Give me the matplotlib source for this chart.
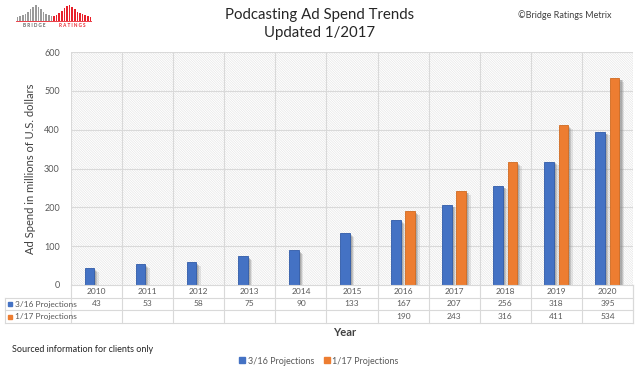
import matplotlib
matplotlib.use("Agg")
import matplotlib.pyplot as plt
from matplotlib.patches import Rectangle
from matplotlib.lines import Line2D
import numpy as np

plt.rcParams['font.family'] = ['Lato', 'DejaVu Sans']
plt.rcParams['hatch.linewidth'] = 0.4

years = ['2010', '2011', '2012', '2013', '2014', '2015', '2016', '2017', '2018', '2019', '2020']
proj_316 = [43, 53, 58, 75, 90, 133, 167, 207, 256, 318, 395]
proj_117 = [None, None, None, None, None, None, 190, 243, 316, 411, 534]
series_names = ['3/16 Projections', '1/17 Projections']
yticks = [0, 100, 200, 300, 400, 500, 600]
logo_gray = [4, 5, 6, 7, 9, 11, 13, 15, 13, 11, 9, 7, 6, 5]
logo_red = [5, 6, 8, 10, 12, 14, 15, 13, 11, 9, 8, 7, 6, 5, 4]

BLUE = '#4472C4'
ORANGE = '#ED7D31'
TXT = '#595959'
GRID = '#d9d9d9'

W, H = 640, 370
fig = plt.figure(figsize=(6.4, 3.7), dpi=100)

def rect(x0, y0, x1, y1):
    return [x0 / W, 1 - y1 / H, (x1 - x0) / W, (y1 - y0) / H]

ax = fig.add_axes(rect(71, 52, 633, 285))
n = len(years)
x = np.arange(n)
ax.set_xlim(-0.5, n - 0.5)
ax.set_ylim(0, 600)

# hatched background
bg = Rectangle((0, 0), 1, 1, transform=ax.transAxes, facecolor='white',
               edgecolor='#e2e2e2', hatch='\\' * 14, lw=0, zorder=0)
ax.add_patch(bg)
for t in yticks[1:]:
    ax.axhline(t, color=GRID, lw=0.8, zorder=1)
for b in np.arange(-0.5, n, 1.0):
    ax.axvline(b, color=GRID, lw=0.8, zorder=1)

bw = 0.19
off = 0.14
v1 = np.array(proj_316, dtype=float)
idx2 = [i for i, v in enumerate(proj_117) if v is not None]
v2 = np.array([proj_117[i] for i in idx2], dtype=float)
x2 = np.array(idx2, dtype=float)
# soft shadows
for sx, sy, a in [(0.09, 10, 0.18), (0.06, 7, 0.3), (0.04, 5, 0.35)]:
    ax.bar(x - off + sx, v1 - sy, width=bw, color='#808080', alpha=a, zorder=2, lw=0)
    ax.bar(x2 + off + sx, v2 - sy, width=bw, color='#808080', alpha=a, zorder=2, lw=0)
ax.bar(x - off, v1, width=bw, color=BLUE, edgecolor='#2f5aa8', lw=0.6, zorder=3)
ax.bar(x2 + off, v2, width=bw, color=ORANGE, edgecolor='#d06a20', lw=0.6, zorder=3)

ax.set_xticks([])
ax.set_yticks(yticks)
ax.set_yticklabels([str(t) for t in yticks], color=TXT, fontsize=6.5)
ax.tick_params(axis='y', length=0, pad=8)
for s in ax.spines.values():
    s.set_visible(False)
ax.set_ylabel('Ad Spend in millions of U.S. dollars', fontsize=8, color='#404040', labelpad=6)

# data table
tax = fig.add_axes(rect(71, 285, 633, 323))
tax.set_xlim(-0.5, n - 0.5)
tax.set_ylim(3, 0)
tax.axis('off')
lab_left = -0.5 - (71 - 5) / ((633 - 71) / n)
lc = dict(color=GRID, lw=0.8, clip_on=False)
tax.plot([-0.5, n - 0.5], [0, 0], **lc)
for r in [1, 2, 3]:
    tax.plot([lab_left, n - 0.5], [r, r], **lc)
for b in np.arange(-0.5, n, 1.0):
    tax.plot([b, b], [0, 3], **lc)
tax.plot([n - 0.5, n - 0.5], [0, 3], **lc)
tax.plot([lab_left, lab_left], [1, 3], **lc)

for i in range(n):
    tax.text(i, 0.5, years[i], ha='center', va='center', fontsize=6, color=TXT)
    tax.text(i, 1.5, str(proj_316[i]), ha='center', va='center', fontsize=6, color=TXT)
    if proj_117[i] is not None:
        tax.text(i, 2.5, str(proj_117[i]), ha='center', va='center', fontsize=6, color=TXT)
for r, (nm, c) in enumerate(zip(series_names, [BLUE, ORANGE])):
    tax.plot([lab_left + 0.1], [1.5 + r], marker='s', ms=3, color=c, clip_on=False)
    tax.text(lab_left + 0.2, 1.5 + r, nm, ha='left', va='center', fontsize=6, color=TXT)

# titles and texts
fig.text(320 / W, 1 - 15 / H, 'Podcasting Ad Spend Trends', ha='center', va='center',
         fontsize=10.8, color='#262626')
fig.text(320 / W, 1 - 33 / H, 'Updated 1/2017', ha='center', va='center',
         fontsize=10.8, color='#262626')
fig.text(565 / W, 1 - 15 / H, '\u00a9Bridge Ratings Metrix', ha='center', va='center',
         fontsize=6.5, color='#404040')
fig.text(345 / W, 1 - 333 / H, 'Year', ha='center', va='center', fontsize=8,
         fontweight='bold', color='#404040')
fig.text(12 / W, 1 - 350 / H, 'Sourced information for clients only', ha='left', va='center',
         fontsize=6.5, color='#262626')

handles = [Line2D([], [], marker='s', ls='', color=c, ms=4) for c in [BLUE, ORANGE]]
fig.legend(handles, series_names, loc='center', bbox_to_anchor=(318 / W, 1 - 361 / H),
           ncol=2, frameon=False, fontsize=6.5, handletextpad=0.1, columnspacing=0.9,
           handlelength=1.0, labelcolor=TXT)

# logo
lax = fig.add_axes(rect(16, 4, 92, 28))
ng = len(logo_gray)
lx = np.arange(ng + len(logo_red))
lax.bar(lx[:ng], logo_gray, width=0.6, color='#9a9a9a')
lax.bar(lx[ng:], logo_red, width=0.6, color='#e8202a')
lax.set_xlim(-0.6, len(lx) - 0.4)
lax.set_ylim(-6, 16)
lax.axhline(0, color='#e8202a', lw=0.6, xmax=1)
lax.text(ng / 2 - 0.5, -3.4, 'B R I D G E', ha='center', va='center', fontsize=3.3,
         color='#606060', fontweight='bold')
lax.text(ng + len(logo_red) / 2 - 0.5, -3.4, 'R A T I N G S', ha='center', va='center',
         fontsize=3.3, color='#e8202a', fontweight='bold')
lax.axis('off')

fig.savefig('out.png', dpi=100, facecolor='white')
